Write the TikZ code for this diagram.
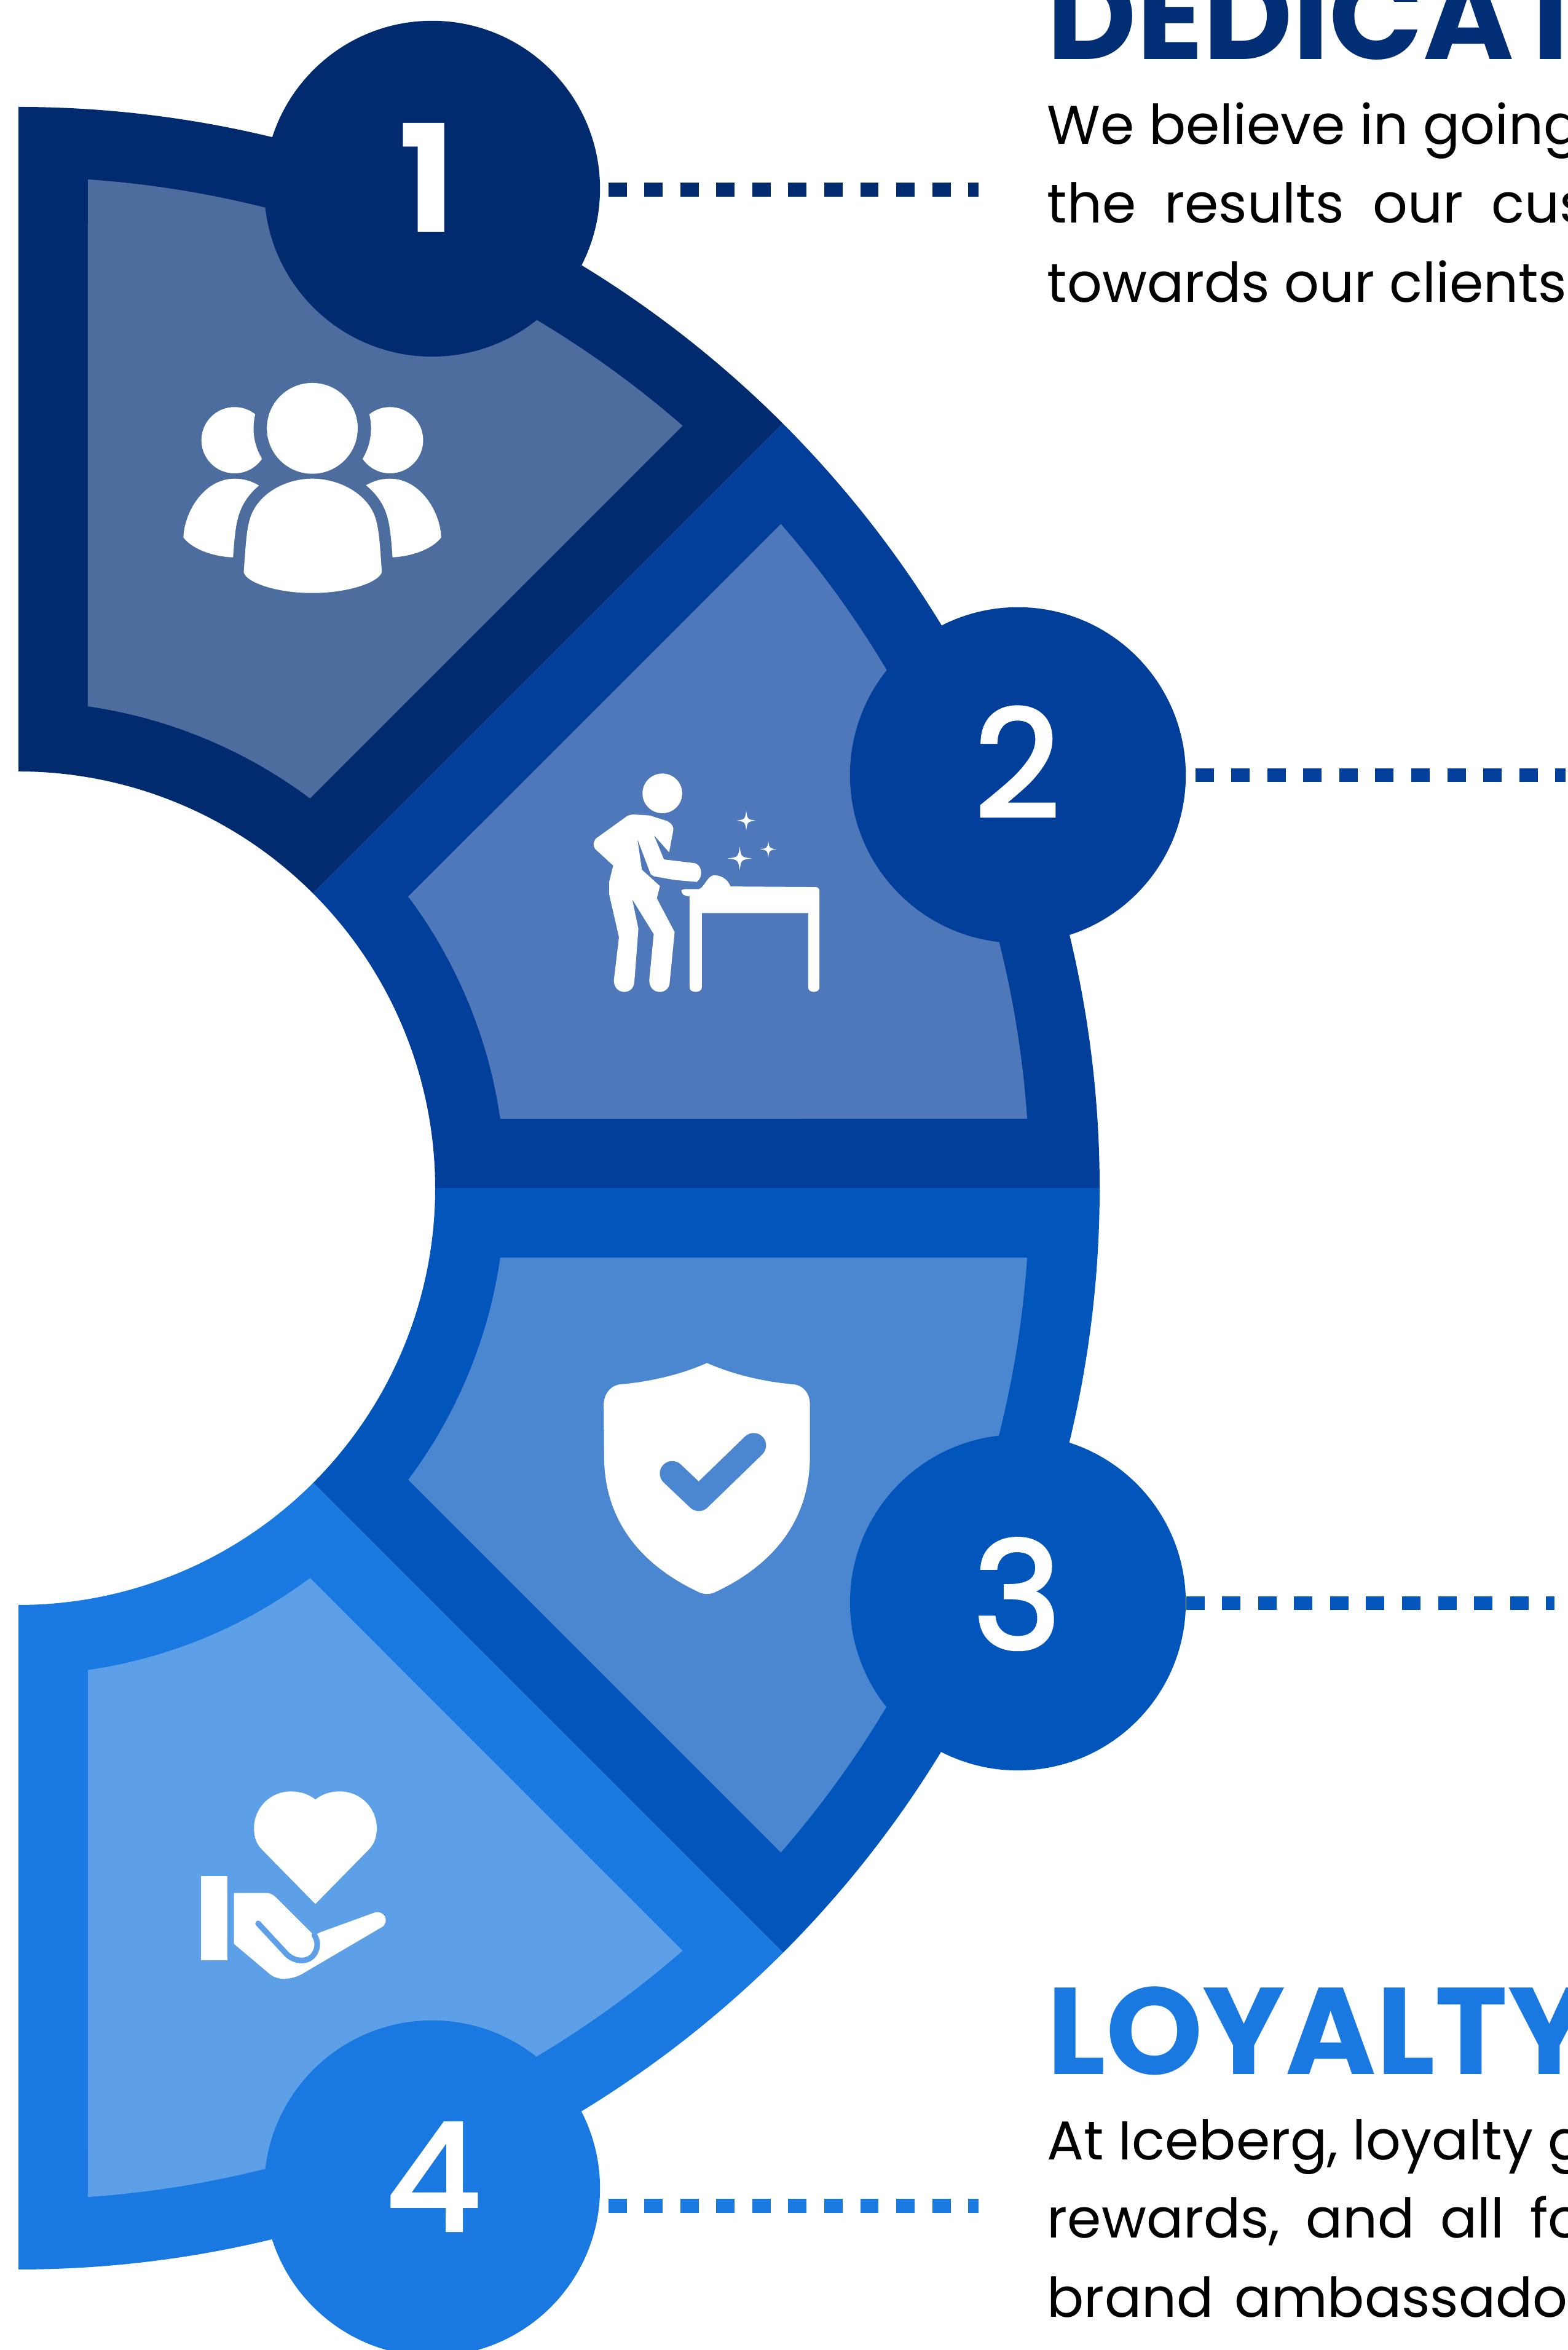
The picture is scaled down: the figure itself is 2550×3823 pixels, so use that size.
\documentclass[tikz,border=0pt]{standalone}
\usepackage{fontspec}
\setmainfont{Poppins}
\newfontfamily\numfont[FakeBold=2.5]{Poppins}
\definecolor{ringA}{HTML}{022B6F}
\definecolor{ringB}{HTML}{023F9B}
\definecolor{ringC}{HTML}{0256BB}
\definecolor{ringD}{HTML}{1A79E0}
\definecolor{panelA}{HTML}{4D6D9F}
\definecolor{panelB}{HTML}{4E78B9}
\definecolor{panelC}{HTML}{4B86D0}
\definecolor{panelD}{HTML}{5DA0E7}
\tikzset{
  numcircle/.style={circle,inner sep=0pt,minimum size=5.46cm,fill=#1},
  numlabel/.style={inner sep=0pt,anchor=base,text=white,font=\numfont\fontsize{69}{69}\selectfont},
  dotline/.style={draw=#1,line width=6.5pt,dash pattern=on 8.53pt off 8.11pt},
  headline/.style={inner sep=0pt,anchor=base west,text=#1,font=\bfseries\fontsize{57}{57}\selectfont},
  bodyline/.style={inner sep=0pt,anchor=base west,text=black,font=\fontsize{25.3}{25.3}\selectfont},
  iconA/.style={shift={(2.5cm,32.73cm)},x=0.003333cm,y=-0.003333cm},
  iconB/.style={shift={(9cm,26.03cm)},x=0.003333cm,y=-0.003333cm},
  iconC/.style={shift={(9.5cm,16.23cm)},x=0.003333cm,y=-0.003333cm},
  iconD/.style={shift={(2.6cm,9.63cm)},x=0.003333cm,y=-0.003333cm}
}
\newcommand\sparkle[3]{\fill[white,shift={(#1,#2)},scale=#3] (1,0) .. controls (.12,.12) .. (0,1) .. controls (-.12,.12) .. (-1,0) .. controls (-.12,-.12) .. (0,-1) .. controls (.12,-.12) .. cycle;}
\begin{document}
\begin{tikzpicture}[x=0.01cm,y=0.01cm]
\useasboundingbox (0,0) rectangle (2550,3823);
\clip (0,0) rectangle (2550,3823);
% sectors
\begin{scope}[shift={(30,1890)}]
\foreach \a/\b/\rc/\pc in {90/45/ringA/panelA,45/0/ringB/panelB,0/-45/ringC/panelC,-45/-90/ringD/panelD}{
  \fill[\rc] (\a:1759) arc (\a:\b:1759) -- (\b:678) arc (\b:\a:678) -- cycle;
  \pgfmathsetmacro\ao{\a-3.94}\pgfmathsetmacro\bo{\b+3.94}
  \pgfmathsetmacro\ai{\a-8.2}\pgfmathsetmacro\bi{\b+8.2}
  \fill[\pc] (\ao:1645) arc (\ao:\bo:1645) -- (\bi:792) arc (\bi:\ai:792) -- cycle;
}
\end{scope}
% number circles
\node[numcircle=ringA] (c1) at (703,3516) {};
\node[numcircle=ringB] (c2) at (1656,2562) {};
\node[numcircle=ringC] (c3) at (1656,1216) {};
\node[numcircle=ringD] (c4) at (703,263) {};
\node[numlabel] (n1) at (695,3445) {\rmfamily\bfseries 1};
\node[numlabel] (n2) at (1655,2494) {2};
\node[numlabel] (n3) at (1655,1141) {3};
\node[numlabel] (n4) at (705,195) {4};
% dotted connectors
\coordinate (e1) at (1592,3514.5);
\coordinate (e2) at (2547,2562);
\coordinate (e3) at (2529,1215);
\coordinate (e4) at (1592,234.5);
\draw[dotline=ringA,shorten <=0.13cm] (c1.east |- e1) -- (e1);
\draw[dotline=ringB,shorten <=0.15cm] (c2.east |- e2) -- (e2);
\draw[dotline=ringC] (c3.east |- e3) -- (e3);
\draw[dotline=ringD,shorten <=0.13cm] (c4.east |- e4) -- (e4);
% texts
\node[headline=ringA!85!ringB] (t1) at (1703,3726) {DEDICAT};
\node[bodyline] (b1) at (1703,3588) {We believe in going};
\node[bodyline] (b2) at (1703,3460) {\spaceskip=0.52em the results our cus};
\node[bodyline] (b3) at (1703,3331) {towards our clients};
\node[headline=ringD] (t4) at (1703,448) {LOYALTY};
\node[bodyline] (b4) at (1703,309) {At Iceberg, loyalty g};
\node[bodyline] (b5) at (1703,182) {\spaceskip=0.47em rewards, and all fo};
\node[bodyline] (b6) at (1703,53) {\spaceskip=0.38em brand ambassador};
% icon 1: group of people
\begin{scope}[iconA]
  \fill[white] (395,505) circle [radius=162];
  \fill[white] (1155,505) circle [radius=162];
  \fill[white] (145,980) .. controls (150,850) and (250,693) .. (395,693) .. controls (440,693) and (480,705) .. (520,730) -- (420,1078) -- (395,1078) .. controls (280,1075) and (180,1030) .. (145,980) -- cycle;
  \fill[white] (1405,980) .. controls (1400,850) and (1300,693) .. (1155,693) .. controls (1110,693) and (1070,705) .. (1030,730) -- (1130,1078) -- (1155,1078) .. controls (1270,1075) and (1370,1030) .. (1405,980) -- cycle;
  \fill[panelA] (775,447) circle [radius=287];
  \def\bodypath{(440,1150) .. controls (450,1000) and (455,940) .. (470,890) .. controls (505,770) and (640,693) .. (775,693) .. controls (910,693) and (1050,770) .. (1085,890) .. controls (1100,940) and (1105,1000) .. (1115,1150) .. controls (1100,1200) and (950,1252) .. (775,1252) .. controls (600,1252) and (450,1200) .. (440,1150) -- cycle}
  \draw[panelA,line width=10.8pt,line join=round] \bodypath;
  \fill[white] \bodypath;
  \fill[white] (775,447) circle [radius=222];
\end{scope}
% icon 2: person cleaning a table
\begin{scope}[iconB]
  \fill[white] (532,217) circle [radius=97];
  \fill[white] (390,320) -- (470,325) -- (555,352) .. controls (580,365) and (590,385) .. (585,400) -- (565,505) -- (490,420) -- (540,540) -- (690,558) .. controls (725,565) and (735,625) .. (700,650) -- (590,640) -- (490,622) -- (475,612) -- (410,440) -- (432,590) -- (520,670) -- (505,730) -- (592,895) -- (568,1140) .. controls (565,1205) and (468,1205) .. (468,1130) -- (490,905) -- (385,735) -- (415,880) -- (395,1140) .. controls (390,1205) and (295,1205) .. (295,1130) -- (320,920) -- (272,710) -- (272,650) -- (292,570) -- (205,490) .. controls (190,470) and (195,445) .. (215,432) -- (350,335) .. controls (360,325) and (375,322) .. (390,320) -- cycle;
  \fill[white] (625,690) .. controls (625,710) and (640,720) .. (665,720) -- (665,1165) .. controls (665,1195) and (725,1195) .. (725,1165) -- (725,802) -- (1245,802) -- (1245,1165) .. controls (1245,1195) and (1300,1195) .. (1300,1165) -- (1300,695) .. controls (1300,680) and (1290,675) .. (1280,675) -- (865,672) .. controls (850,630) and (810,615) .. (780,618) .. controls (750,625) and (735,680) .. (710,685) -- (640,685) -- cycle;
  \sparkle{942}{350}{48}
  \sparkle{910}{535}{58}
  \sparkle{1050}{490}{40}
\end{scope}
% icon 3: shield
\begin{scope}[iconC]
  \fill[white] (600,55) .. controls (700,100) and (850,145) .. (1030,160) .. controls (1075,170) and (1100,205) .. (1103,250) -- (1103,520) .. controls (1100,780) and (970,1020) .. (640,1175) .. controls (615,1187) and (585,1187) .. (560,1175) .. controls (230,1020) and (100,780) .. (97,520) -- (95,250) .. controls (100,205) and (125,170) .. (170,160) .. controls (350,145) and (500,100) .. (600,55) -- cycle;
  \draw[panelC,line width=11.5pt,line cap=round,line join=round] (430,595) -- (560,718) -- (828,458);
\end{scope}
% icon 4: hand with heart
\begin{scope}[iconD]
  \fill[white] (760,715) -- (500,450) .. controls (470,420) and (460,385) .. (460,345) .. controls (460,245) and (540,165) .. (640,165) .. controls (690,165) and (730,180) .. (760,205) .. controls (790,180) and (830,165) .. (880,165) .. controls (980,165) and (1060,245) .. (1060,345) .. controls (1060,385) and (1050,420) .. (1020,450) -- cycle;
  \fill[white] (200,580) rectangle (330,990);
  \fill[white] (362,662) -- (530,662) .. controls (550,665) and (565,680) .. (580,695) -- (755,870) -- (780,855) -- (1050,757) .. controls (1090,745) and (1125,790) .. (1090,825) -- (690,1060) .. controls (640,1085) and (580,1090) .. (540,1060) -- (362,910) -- cycle;
  \draw[panelD,line width=2.6pt,line cap=round] (480,810) -- (610,950) .. controls (650,1000) and (730,1010) .. (760,950) .. controls (775,920) and (770,890) .. (755,868);
\end{scope}
\end{tikzpicture}
\end{document}
